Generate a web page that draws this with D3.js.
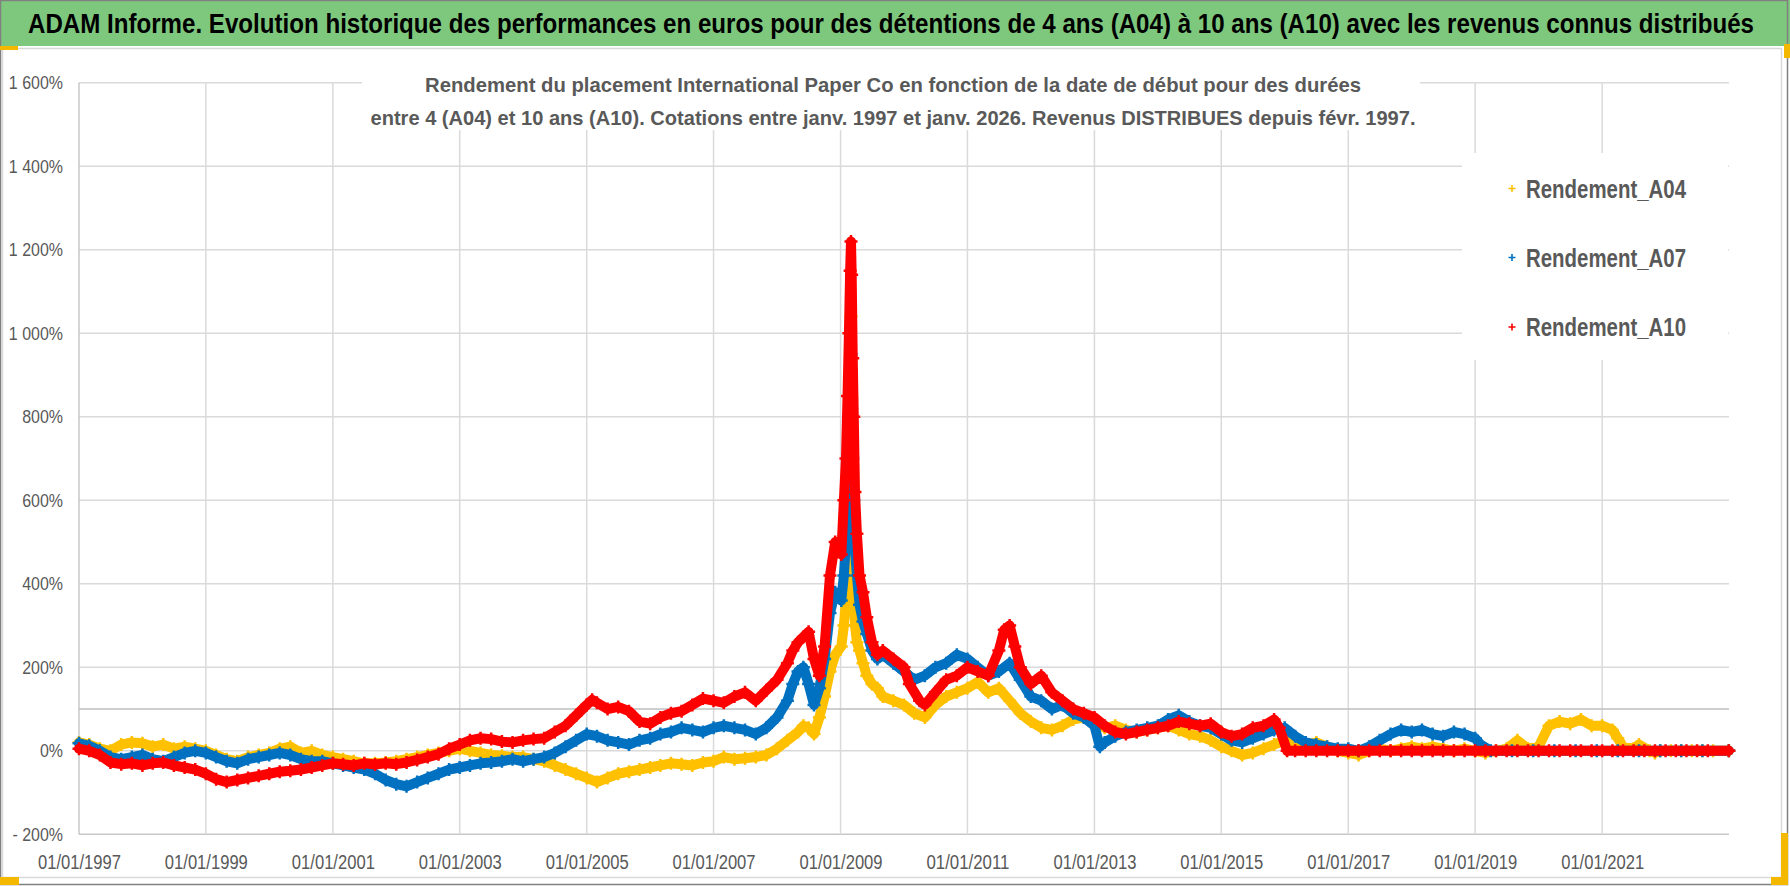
<!DOCTYPE html>
<html>
<head>
<meta charset="utf-8">
<script src="https://cdn.jsdelivr.net/npm/d3@7"></script>
<style>
  body { margin: 0; background: #fff; }
  text { font-family: "Liberation Sans Narrow", "Arial Narrow", "Liberation Sans", sans-serif; }
</style>
</head>
<body>
<div id="chart"></div>
<script>
// set constants
const FRAME_WIDTH = 1790;
const FRAME_HEIGHT = 886;
const PLOT = {left: 79, right: 1729, top: 82.8, bottom: 834.3};

const TITLE = "ADAM Informe. Evolution historique des performances en euros pour des détentions de 4 ans (A04) à 10 ans (A10) avec les revenus connus distribués";
const SUBTITLE = ["Rendement du placement International Paper Co en fonction de la date de début pour des durées",
                  "entre 4 (A04) et 10 ans (A10). Cotations entre janv. 1997 et janv. 2026. Revenus DISTRIBUES depuis févr. 1997."];
const SERIES_NAMES = ["Rendement_A04", "Rendement_A07", "Rendement_A10"];
const Y_TICKS = [-200, 0, 200, 400, 600, 800, 1000, 1200, 1400, 1600];
const X_TICKS = ["1997-01-01", "1999-01-01", "2001-01-01", "2003-01-01", "2005-01-01", "2007-01-01",
                 "2009-01-01", "2011-01-01", "2013-01-01", "2015-01-01", "2017-01-01", "2019-01-01", "2021-01-01"];

// yield (%) by start date
const A04 = [
  ["1997-01-01",20],["1997-03-01",15],["1997-05-01",5],["1997-07-01",0],["1997-09-01",15],["1997-11-01",20],
  ["1998-01-01",18],["1998-03-01",10],["1998-05-01",15],["1998-07-01",5],["1998-09-01",10],["1998-11-01",5],
  ["1999-01-01",0],["1999-03-01",-10],["1999-05-01",-20],["1999-07-01",-25],["1999-09-01",-15],["1999-11-01",-10],
  ["2000-01-01",-5],["2000-03-01",5],["2000-05-01",10],["2000-07-01",-5],["2000-09-01",0],["2000-11-01",-10],
  ["2001-01-01",-15],["2001-03-01",-20],["2001-05-01",-25],["2001-07-01",-30],["2001-09-01",-30],["2001-11-01",-28],
  ["2002-01-01",-25],["2002-03-01",-20],["2002-05-01",-15],["2002-07-01",-10],["2002-09-01",-5],["2002-11-01",0],
  ["2003-01-01",5],["2003-03-01",0],["2003-05-01",-5],["2003-07-01",-10],["2003-09-01",-12],["2003-11-01",-15],
  ["2004-01-01",-15],["2004-03-01",-20],["2004-05-01",-25],["2004-07-01",-35],["2004-09-01",-45],["2004-11-01",-55],
  ["2005-01-01",-65],["2005-03-01",-75],["2005-05-01",-65],["2005-07-01",-55],["2005-09-01",-50],["2005-11-01",-45],
  ["2006-01-01",-40],["2006-03-01",-35],["2006-05-01",-30],["2006-07-01",-32],["2006-09-01",-35],["2006-11-01",-28],
  ["2007-01-01",-25],["2007-03-01",-15],["2007-05-01",-20],["2007-07-01",-18],["2007-09-01",-15],["2007-11-01",-10],
  ["2008-01-01",5],["2008-03-01",25],["2008-05-01",45],["2008-06-01",60],["2008-07-01",55],["2008-08-01",40],
  ["2008-09-01",80],["2008-10-01",130],["2008-11-01",190],["2008-12-01",230],
  ["2009-01-05",250],["2009-01-20",300],["2009-02-01",360],["2009-02-10",450],["2009-02-18",550],["2009-02-25",690],
  ["2009-03-02",1040],["2009-03-06",840],["2009-03-12",550],["2009-03-18",420],["2009-03-25",300],["2009-04-05",260],
  ["2009-04-20",240],["2009-05-10",210],["2009-06-01",180],["2009-07-01",160],["2009-08-01",150],["2009-09-01",130],
  ["2009-11-01",120],["2010-01-01",110],["2010-03-01",90],["2010-05-01",80],["2010-07-01",110],["2010-09-01",130],
  ["2010-11-01",140],["2011-01-01",150],["2011-03-01",165],["2011-05-01",140],["2011-07-01",150],["2011-09-01",120],
  ["2011-11-01",90],["2012-01-01",70],["2012-03-01",55],["2012-05-01",50],["2012-07-01",60],["2012-09-01",75],
  ["2012-11-01",80],["2013-01-01",70],["2013-03-01",55],["2013-05-01",60],["2013-07-01",50],["2013-09-01",45],
  ["2013-11-01",50],["2014-01-01",55],["2014-03-01",60],["2014-05-01",50],["2014-07-01",40],["2014-09-01",35],
  ["2014-11-01",25],["2015-01-01",10],["2015-03-01",0],["2015-05-01",-10],["2015-07-01",-5],["2015-09-01",5],
  ["2015-11-01",15],["2016-01-01",25],["2016-03-01",20],["2016-05-01",15],["2016-07-01",20],["2016-09-01",10],
  ["2016-11-01",0],["2017-01-01",-5],["2017-03-01",-10],["2017-05-01",0],["2017-07-01",5],["2017-09-01",0],
  ["2017-11-01",5],["2018-01-01",10],["2018-03-01",5],["2018-05-01",10],["2018-07-01",5],["2018-09-01",0],
  ["2018-11-01",5],["2019-01-01",0],["2019-03-01",-5],["2019-05-01",0],["2019-07-01",5],["2019-09-01",25],
  ["2019-11-01",5],["2020-01-01",10],["2020-03-01",60],["2020-05-01",70],["2020-07-01",65],["2020-09-01",75],
  ["2020-11-01",60],["2021-01-01",60],["2021-03-01",50],["2021-04-01",30],["2021-05-01",10],["2021-07-01",5],
  ["2021-08-01",15],["2021-10-01",0],["2021-11-01",-5],["2021-12-01",0],
  ["2022-02-01",0],["2022-04-01",0],["2022-06-01",0],["2022-08-01",0],["2022-10-01",0],["2022-12-31",0]
];

const A07 = [
  ["1997-01-01",18],["1997-03-01",12],["1997-05-01",0],["1997-07-01",-15],["1997-09-01",-20],["1997-11-01",-15],
  ["1998-01-01",-10],["1998-03-01",-20],["1998-05-01",-25],["1998-07-01",-15],["1998-09-01",-5],["1998-11-01",0],
  ["1999-01-01",-5],["1999-03-01",-15],["1999-05-01",-25],["1999-07-01",-30],["1999-09-01",-20],["1999-11-01",-15],
  ["2000-01-01",-10],["2000-03-01",-5],["2000-05-01",-10],["2000-07-01",-20],["2000-09-01",-25],["2000-11-01",-25],
  ["2001-01-01",-30],["2001-03-01",-35],["2001-05-01",-40],["2001-07-01",-45],["2001-09-01",-55],["2001-11-01",-70],
  ["2002-01-01",-80],["2002-03-01",-85],["2002-05-01",-75],["2002-07-01",-65],["2002-09-01",-55],["2002-11-01",-45],
  ["2003-01-01",-40],["2003-03-01",-35],["2003-05-01",-30],["2003-07-01",-28],["2003-09-01",-25],["2003-11-01",-20],
  ["2004-01-01",-25],["2004-03-01",-20],["2004-05-01",-15],["2004-07-01",-5],["2004-09-01",10],["2004-11-01",25],
  ["2005-01-01",40],["2005-03-01",35],["2005-05-01",25],["2005-07-01",20],["2005-09-01",15],["2005-11-01",25],
  ["2006-01-01",30],["2006-03-01",40],["2006-05-01",45],["2006-07-01",55],["2006-09-01",50],["2006-11-01",45],
  ["2007-01-01",55],["2007-03-01",60],["2007-05-01",55],["2007-07-01",50],["2007-09-01",40],["2007-11-01",55],
  ["2008-01-01",80],["2008-03-01",120],["2008-04-01",160],["2008-05-01",190],["2008-06-01",200],["2008-07-01",160],
  ["2008-08-01",110],["2008-09-01",150],["2008-10-01",220],["2008-11-01",330],["2008-12-01",380],
  ["2009-01-05",360],["2009-01-20",420],["2009-02-01",500],["2009-02-10",620],["2009-02-18",760],["2009-02-25",880],
  ["2009-03-02",950],["2009-03-06",820],["2009-03-12",700],["2009-03-18",600],["2009-03-25",480],["2009-04-05",420],
  ["2009-04-20",350],["2009-05-10",310],["2009-06-01",280],["2009-07-01",240],["2009-08-01",220],["2009-09-01",230],
  ["2009-11-01",210],["2010-01-01",190],["2010-03-01",170],["2010-05-01",180],["2010-07-01",200],["2010-09-01",210],
  ["2010-11-01",230],["2011-01-01",220],["2011-03-01",200],["2011-05-01",180],["2011-07-01",190],["2011-09-01",210],
  ["2011-11-01",170],["2012-01-01",130],["2012-03-01",120],["2012-05-01",100],["2012-07-01",110],["2012-09-01",90],
  ["2012-11-01",80],["2013-01-01",60],["2013-02-01",10],["2013-03-01",20],["2013-05-01",35],["2013-07-01",45],
  ["2013-09-01",50],["2013-11-01",55],["2014-01-01",60],["2014-03-01",75],["2014-05-01",85],["2014-07-01",70],
  ["2014-09-01",60],["2014-11-01",55],["2015-01-01",40],["2015-03-01",25],["2015-05-01",20],["2015-07-01",30],
  ["2015-09-01",40],["2015-11-01",50],["2016-01-01",55],["2016-03-01",35],["2016-05-01",20],["2016-07-01",15],
  ["2016-09-01",10],["2016-11-01",5],["2017-01-01",5],["2017-03-01",0],["2017-05-01",10],["2017-07-01",25],
  ["2017-09-01",40],["2017-11-01",50],["2018-01-01",45],["2018-03-01",50],["2018-05-01",40],["2018-07-01",35],
  ["2018-09-01",45],["2018-11-01",40],["2019-01-01",30],["2019-02-01",15],
  ["2019-04-01",0],["2019-08-01",0],["2019-12-01",0],["2020-04-01",0],["2020-08-01",0],["2020-12-01",0],
  ["2021-04-01",0],["2021-08-01",0],["2021-12-01",0],["2022-04-01",0],["2022-08-01",0],["2022-12-31",0]
];

const A10 = [
  ["1997-01-01",5],["1997-03-01",0],["1997-05-01",-10],["1997-07-01",-28],["1997-09-01",-32],["1997-11-01",-30],
  ["1998-01-01",-35],["1998-03-01",-30],["1998-05-01",-28],["1998-07-01",-35],["1998-09-01",-40],["1998-11-01",-45],
  ["1999-01-01",-55],["1999-03-01",-68],["1999-05-01",-75],["1999-07-01",-70],["1999-09-01",-65],["1999-11-01",-60],
  ["2000-01-01",-55],["2000-03-01",-50],["2000-05-01",-48],["2000-07-01",-45],["2000-09-01",-40],["2000-11-01",-35],
  ["2001-01-01",-30],["2001-03-01",-32],["2001-05-01",-35],["2001-07-01",-30],["2001-09-01",-33],["2001-11-01",-30],
  ["2002-01-01",-32],["2002-03-01",-28],["2002-05-01",-22],["2002-07-01",-15],["2002-09-01",-8],["2002-11-01",5],
  ["2003-01-01",15],["2003-03-01",25],["2003-05-01",30],["2003-07-01",28],["2003-09-01",22],["2003-11-01",20],
  ["2004-01-01",25],["2004-03-01",28],["2004-05-01",30],["2004-07-01",45],["2004-09-01",60],["2004-11-01",85],
  ["2005-01-01",110],["2005-02-01",122],["2005-03-01",115],["2005-05-01",100],["2005-07-01",105],["2005-09-01",95],
  ["2005-11-01",70],["2006-01-01",65],["2006-03-01",80],["2006-05-01",90],["2006-07-01",95],["2006-09-01",110],
  ["2006-11-01",125],["2007-01-01",120],["2007-03-01",115],["2007-05-01",130],["2007-07-01",140],["2007-09-01",120],
  ["2007-11-01",145],["2008-01-01",170],["2008-03-01",210],["2008-04-01",240],["2008-05-01",260],["2008-07-01",285],
  ["2008-08-01",220],["2008-09-01",180],["2008-10-01",250],["2008-11-01",420],["2008-12-01",500],
  ["2009-01-05",470],["2009-01-20",600],["2009-02-01",700],["2009-02-10",850],["2009-02-18",1000],["2009-02-25",1150],
  ["2009-03-02",1220],["2009-03-06",1140],["2009-03-12",940],["2009-03-18",800],["2009-03-25",620],["2009-04-05",520],
  ["2009-04-20",420],["2009-05-10",380],["2009-06-01",320],["2009-07-01",260],["2009-08-01",230],["2009-09-01",240],
  ["2009-11-01",220],["2010-01-01",200],["2010-02-01",160],["2010-04-01",120],["2010-05-01",110],["2010-07-01",140],
  ["2010-09-01",170],["2010-11-01",180],["2011-01-01",200],["2011-03-01",190],["2011-05-01",180],["2011-07-01",240],
  ["2011-08-01",290],["2011-09-01",300],["2011-10-01",250],["2011-11-01",200],["2012-01-01",160],["2012-03-01",180],
  ["2012-05-01",140],["2012-07-01",120],["2012-09-01",100],["2012-11-01",90],["2013-01-01",80],["2013-03-01",60],
  ["2013-05-01",45],["2013-07-01",40],["2013-09-01",45],["2013-11-01",50],["2014-01-01",55],["2014-03-01",60],
  ["2014-05-01",70],["2014-07-01",65],["2014-09-01",60],["2014-11-01",65],["2015-01-01",45],["2015-03-01",35],
  ["2015-05-01",40],["2015-07-01",55],["2015-09-01",60],["2015-11-01",75],["2015-12-01",55],
  ["2016-01-15",0],["2016-03-01",0],["2016-05-01",0],["2016-07-01",0],["2016-09-01",0],["2016-11-01",0],
  ["2017-01-01",0],["2017-03-01",0],["2017-05-01",0],["2017-07-01",0],["2017-09-01",0],["2017-11-01",0],
  ["2018-01-01",0],["2018-03-01",0],["2018-05-01",0],["2018-07-01",0],["2018-09-01",0],["2018-11-01",0],
  ["2019-01-01",0],["2019-03-01",0],["2019-05-01",0],["2019-07-01",0],["2019-09-01",0],["2019-11-01",0],
  ["2020-01-01",0],["2020-03-01",0],["2020-05-01",0],["2020-07-01",0],["2020-09-01",0],["2020-11-01",0],
  ["2021-01-01",0],["2021-03-01",0],["2021-05-01",0],["2021-07-01",0],["2021-09-01",0],["2021-11-01",0],
  ["2022-01-01",0],["2022-03-01",0],["2022-05-01",0],["2022-07-01",0],["2022-09-01",0],["2022-12-31",0]
];

const COLORS = ["#ffc000", "#0070c0", "#ff0000"];

const parseDate = d3.timeParse("%Y-%m-%d");
const SERIES = [A04, A07, A10].map((s) => s.map((d) => ({date: parseDate(d[0]), value: d[1]})));

// make svg frame
const FRAME = d3.select("#chart")
                .append("svg")
                  .attr("width", FRAME_WIDTH)
                  .attr("height", FRAME_HEIGHT);

FRAME.append("rect").attr("x", 0).attr("y", 0).attr("width", FRAME_WIDTH).attr("height", FRAME_HEIGHT).attr("fill", "#fff");

// chart area border
FRAME.append("rect")
      .attr("x", 2.5).attr("y", 48.5).attr("width", 1779).attr("height", 829)
      .attr("fill", "none").attr("stroke", "#d9d9d9").attr("stroke-width", 1.5);

// title bar
FRAME.append("rect").attr("x", 0).attr("y", 0).attr("width", FRAME_WIDTH).attr("height", 46).attr("fill", "#7ec87e");
FRAME.append("text")
      .attr("transform", "translate(28,32.5) scale(1,1.3)")
      .attr("font-size", 21).attr("font-weight", "bold").attr("fill", "#000")
      .attr("textLength", 1726).attr("lengthAdjust", "spacingAndGlyphs")
      .text(TITLE);

// scales
const X_SCALE = d3.scaleTime()
                  .domain([parseDate("1997-01-01"), parseDate("2023-01-01")])
                  .range([PLOT.left, PLOT.right]);
const Y_SCALE = d3.scaleLinear()
                  .domain([-200, 1600])
                  .range([PLOT.bottom, PLOT.top]);

// gridlines
const grid = FRAME.append("g");
grid.selectAll("line.h")
    .data(Y_TICKS)
    .enter().append("line")
      .attr("x1", PLOT.left).attr("x2", PLOT.right)
      .attr("y1", (d) => Y_SCALE(d)).attr("y2", (d) => Y_SCALE(d))
      .attr("stroke", (d) => d === -200 ? "#c8c8c8" : "#dadada").attr("stroke-width", 1.5);
grid.selectAll("line.v")
    .data(X_TICKS.map(parseDate))
    .enter().append("line")
      .attr("x1", (d) => X_SCALE(d)).attr("x2", (d) => X_SCALE(d))
      .attr("y1", PLOT.top).attr("y2", PLOT.bottom)
      .attr("stroke", (d, i) => i === 0 ? "#c8c8c8" : "#dadada").attr("stroke-width", 1.5);
// horizontal axis line crossing at 100%
grid.append("line")
    .attr("x1", PLOT.left).attr("x2", PLOT.right)
    .attr("y1", Y_SCALE(100)).attr("y2", Y_SCALE(100))
    .attr("stroke", "#bfbfbf").attr("stroke-width", 1.5);

// white boxes of title and legend
FRAME.append("rect").attr("x", 362).attr("y", 58).attr("width", 1058).attr("height", 72).attr("fill", "#fff");
FRAME.append("rect").attr("x", 1462).attr("y", 153).attr("width", 266).attr("height", 207).attr("fill", "#fff");

// axes
const frLocale = d3.formatLocale({decimal: ",", thousands: " ", grouping: [3], currency: ["", " €"]});
const fmt = frLocale.format(",");
const yFormat = (d) => d < 0 ? "- " + fmt(-d) + "%" : fmt(d) + "%";

const yAxis = FRAME.append("g")
      .attr("transform", "translate(" + PLOT.left + ",0)")
      .call(d3.axisLeft(Y_SCALE).tickValues(Y_TICKS).tickFormat(yFormat).tickSize(0).tickPadding(16));
yAxis.select(".domain").remove();
yAxis.selectAll("text").attr("font-size", 19).attr("fill", "#595959")
      .each(function() {
        const w = this.getComputedTextLength();
        d3.select(this).attr("textLength", w * 0.84).attr("lengthAdjust", "spacingAndGlyphs");
      });

const xAxis = FRAME.append("g")
      .attr("transform", "translate(0," + PLOT.bottom + ")")
      .call(d3.axisBottom(X_SCALE).tickValues(X_TICKS.map(parseDate)).tickFormat(d3.timeFormat("%d/%m/%Y")).tickSize(0).tickPadding(21));
xAxis.select(".domain").remove();
xAxis.selectAll("text").attr("font-size", 20).attr("fill", "#595959")
      .attr("textLength", 83).attr("lengthAdjust", "spacingAndGlyphs");

// series
const lineGen = d3.line()
                  .x((d) => X_SCALE(d.date))
                  .y((d) => Y_SCALE(d.value));
const CROSS = "M-6.5,0H6.5M0,-6.5V6.5";

SERIES.forEach((s, i) => {
  const g = FRAME.append("g");
  g.append("path")
    .datum(s)
    .attr("d", lineGen)
    .attr("fill", "none")
    .attr("stroke", COLORS[i])
    .attr("stroke-width", 10)
    .attr("stroke-linejoin", "round")
    .attr("stroke-linecap", "round");
  g.selectAll("path.pt")
    .data(s)
    .enter().append("path")
      .attr("class", "pt")
      .attr("d", CROSS)
      .attr("transform", (d) => "translate(" + X_SCALE(d.date) + "," + Y_SCALE(d.value) + ")")
      .attr("stroke", COLORS[i])
      .attr("stroke-width", 2.5);
});

// subtitle
const SUB_Y = [92, 125];
const SUB_W = [936, 1045];
SUBTITLE.forEach((t, i) => {
  FRAME.append("text")
        .attr("x", 893).attr("y", SUB_Y[i])
        .attr("text-anchor", "middle")
        .attr("font-size", 21).attr("font-weight", "bold").attr("fill", "#595959")
        .attr("textLength", SUB_W[i]).attr("lengthAdjust", "spacingAndGlyphs")
        .text(t);
});

// legend
const LEG_Y = [188.5, 257.5, 327];
SERIES_NAMES.forEach((name, i) => {
  FRAME.append("path")
        .attr("d", "M-3.5,0H3.5M0,-3.5V3.5")
        .attr("transform", "translate(1512," + LEG_Y[i] + ")")
        .attr("stroke", COLORS[i]).attr("stroke-width", 1.6);
  FRAME.append("text")
        .attr("x", 1526).attr("y", LEG_Y[i] + 9)
        .attr("font-size", 25).attr("font-weight", "bold").attr("fill", "#595959")
        .attr("textLength", 160).attr("lengthAdjust", "spacingAndGlyphs")
        .text(name);
});

// outer frame and selection handles
FRAME.append("rect")
      .attr("x", 0.5).attr("y", 0.5).attr("width", FRAME_WIDTH - 3).attr("height", FRAME_HEIGHT - 2)
      .attr("fill", "none").attr("stroke", "#808080").attr("stroke-width", 1.5);
const HANDLES = [[0, 46, 18, 4], [0, 877, 19, 8], [1781, 833, 7, 52], [1771, 877, 17, 8], [1784, 44, 6, 14]];
FRAME.selectAll("rect.handle")
      .data(HANDLES)
      .enter().append("rect")
        .attr("x", (d) => d[0]).attr("y", (d) => d[1]).attr("width", (d) => d[2]).attr("height", (d) => d[3])
        .attr("fill", "#f5b800");
</script>
</body>
</html>
